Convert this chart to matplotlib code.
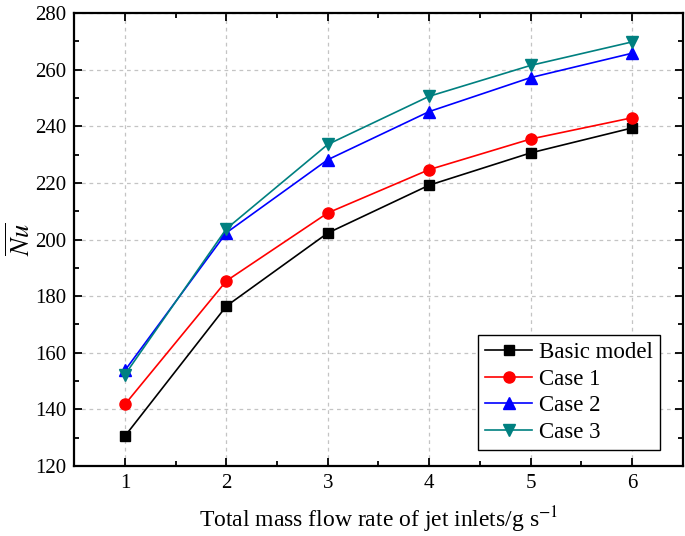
import matplotlib
matplotlib.use("Agg")
from matplotlib import pyplot as plt
from matplotlib.ticker import MultipleLocator

plt.rcParams['font.family'] = ['Liberation Serif', 'DejaVu Serif']
plt.rcParams['mathtext.fontset'] = 'stix'

flow = [1, 2, 3, 4, 5, 6]
basic = [130.6, 176.5, 202.3, 219.2, 230.6, 239.4]
case1 = [141.8, 185.4, 209.4, 224.7, 235.5, 243.0]
case2 = [153.8, 202.4, 228.2, 245.2, 257.2, 265.8]
case3 = [152.3, 203.8, 233.6, 250.6, 261.5, 269.8]

fig = plt.figure(figsize=(6.85, 5.36), dpi=100)
ax = fig.add_axes([0.1085, 0.1306, 0.888, 0.845])

ax.plot(flow, basic, color='black', marker='s', ms=7, lw=1.2, label='Basic model')
ax.plot(flow, case1, color='red', marker='o', ms=8, lw=1.2, label='Case 1')
ax.plot(flow, case2, color='blue', marker='^', ms=8.5, lw=1.2, label='Case 2')
ax.plot(flow, case3, color='#008080', marker='v', ms=8.5, lw=1.2, label='Case 3')

ax.set_xlim(0.5, 6.5)
ax.set_ylim(120, 280)
ax.xaxis.set_major_locator(MultipleLocator(1))
ax.xaxis.set_minor_locator(MultipleLocator(0.5))
ax.yaxis.set_major_locator(MultipleLocator(20))
ax.yaxis.set_minor_locator(MultipleLocator(10))
ax.tick_params(which='both', direction='in', top=True, right=True, labelsize=15, pad=6)
ax.tick_params(which='major', length=5.5, width=1.3)
ax.tick_params(which='minor', length=3.5, width=1.3)
for s in ax.spines.values():
    s.set_linewidth(1.6)
ax.grid(True, which='major', ls=(0, (3, 3)), color='#c4c4c4', lw=0.9)

ax.set_xlabel(r'Total mass flow rate of jet inlets/g s$^{-1}$', fontsize=17, labelpad=8)
ax.set_ylabel(r'$\overline{Nu}$', fontsize=19, labelpad=0)

leg = ax.legend(loc='lower right', bbox_to_anchor=(0.9627, 0.0353), borderaxespad=0,
                fontsize=16.5, fancybox=False, edgecolor='black', framealpha=1,
                handlelength=2.05, borderpad=0.3, labelspacing=0.25, handletextpad=0.3)
leg.get_frame().set_linewidth(1.0)

fig.savefig('out.png', dpi=100)
